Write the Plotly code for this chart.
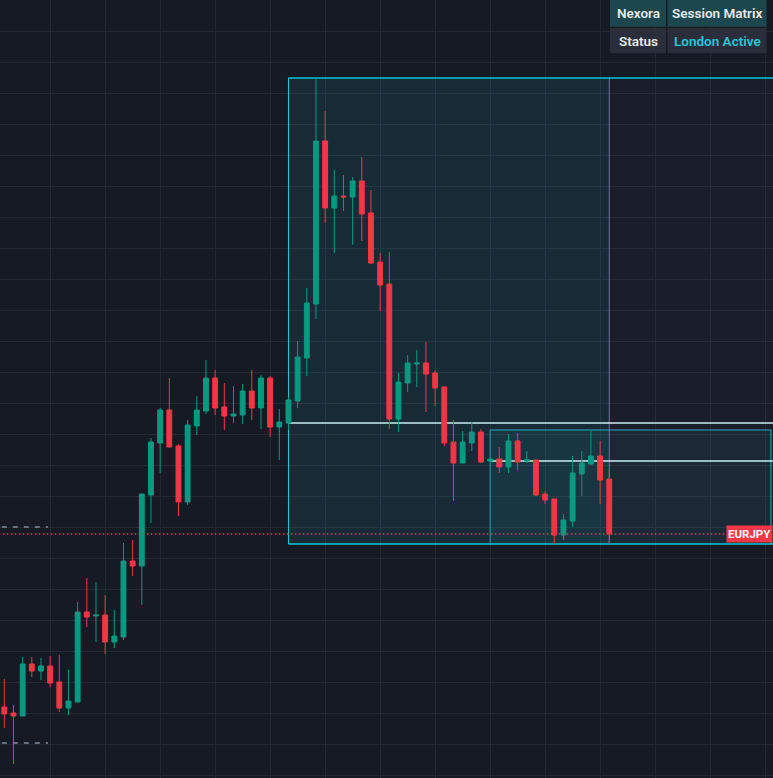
import plotly.graph_objects as go

# EURJPY bars (index based)
bars = list(range(67))
open_ = [160.71, 160.65, 160.62, 161.14, 161.07, 161.12, 160.96, 160.70, 160.76, 161.66,
         161.62, 161.63, 161.36, 161.41, 162.17, 162.12, 162.83, 163.35, 163.68, 163.32,
         162.76, 163.52, 163.67, 164.00, 163.71, 163.62, 163.63, 163.87, 163.70, 164.00,
         163.51, 163.55, 163.77, 164.20, 164.74, 166.37, 165.70, 165.82, 165.81, 165.97,
         165.65, 165.16, 164.94, 163.59, 163.95, 164.14, 164.15, 164.05, 163.91, 163.36,
         163.15, 163.35, 163.46, 163.17, 163.19, 163.11, 163.37, 163.17, 163.18, 162.84,
         162.79, 162.43, 162.57, 163.04, 163.14, 163.22, 162.99]
high_ = [160.99, 160.73, 161.21, 161.21, 161.20, 161.22, 161.23, 161.08, 161.76, 162.00,
         161.96, 161.83, 161.68, 162.35, 162.38, 162.84, 163.40, 163.70, 164.00, 163.34,
         163.58, 163.82, 164.18, 164.08, 163.95, 163.92, 163.94, 164.08, 164.03, 164.02,
         163.69, 163.81, 164.37, 164.90, 167.00, 166.67, 166.08, 166.03, 166.01, 166.21,
         165.88, 165.25, 165.26, 164.05, 164.23, 164.28, 164.36, 164.08, 163.92, 163.58,
         163.47, 163.56, 163.49, 163.20, 163.31, 163.44, 163.45, 163.27, 163.18, 162.87,
         162.79, 162.64, 163.22, 163.27, 163.48, 163.37, 163.09]
low_ = [160.50, 160.14, 160.62, 161.01, 160.98, 160.91, 160.66, 160.63, 160.76, 161.51,
        161.36, 161.24, 161.30, 161.38, 162.02, 161.73, 162.55, 163.05, 163.31, 162.62,
        162.73, 163.43, 163.64, 163.63, 163.48, 163.55, 163.54, 163.58, 163.49, 163.41,
        163.18, 163.48, 163.70, 164.02, 164.59, 165.55, 165.25, 165.67, 165.33, 165.37,
        165.14, 164.67, 163.49, 163.46, 163.86, 163.91, 163.66, 163.72, 163.32, 162.77,
        163.15, 163.27, 163.15, 163.16, 163.05, 163.05, 163.08, 163.15, 162.82, 162.74,
        162.34, 162.38, 162.51, 162.82, 163.13, 162.74, 162.34]
close_ = [160.64, 160.62, 161.14, 161.07, 161.12, 160.95, 160.70, 160.77, 161.66, 161.61,
          161.63, 161.36, 161.42, 162.17, 162.12, 162.84, 163.36, 163.68, 163.31, 162.76,
          163.53, 163.68, 164.00, 163.70, 163.62, 163.64, 163.87, 163.70, 164.00, 163.51,
          163.56, 163.78, 164.21, 164.75, 166.37, 165.70, 165.82, 165.81, 165.97, 165.64,
          165.15, 164.93, 163.59, 163.96, 164.15, 164.15, 164.04, 163.90, 163.35, 163.15,
          163.36, 163.46, 163.16, 163.19, 163.11, 163.37, 163.16, 163.18, 162.83, 162.78,
          162.43, 162.58, 163.05, 163.15, 163.22, 162.98, 162.44]

session_start = 31      # London session first bar
sub_start = 53          # second range box first bar
prev_levels = [162.51, 160.35]   # previous session high / low (dashed)

table_rows = [["Nexora", "Session Matrix"], ["Status", "London Active"]]

BG = "#161a25"
GREEN = "#089981"
RED = "#f23645"
CYAN = "#26c6da"
X_LO, X_HI = -0.47, 83.86
Y_LO, Y_HI = 160.00, 167.78
W, H = 773, 778

fig = go.Figure()
fig.add_trace(go.Candlestick(
    x=bars, open=open_, high=high_, low=low_, close=close_,
    increasing=dict(line=dict(color=GREEN, width=1), fillcolor=GREEN),
    decreasing=dict(line=dict(color=RED, width=1), fillcolor=RED),
    whiskerwidth=0, showlegend=False, hoverinfo="skip",
))

last = len(bars) - 1
s_hi = max(high_[session_start:])
s_lo = min(low_[session_start:])
b_hi = max(high_[sub_start:])
b_lo = min(low_[sub_start:])
b_end = 83.64

shapes = []
# session range box (filled up to the current bar)
shapes.append(dict(type="rect", x0=session_start, x1=last, y0=s_lo, y1=s_hi,
                   fillcolor="rgba(38,198,218,0.10)", line=dict(width=0), layer="between"))
# projected area to the right
shapes.append(dict(type="rect", x0=last, x1=X_HI + 1, y0=s_lo, y1=s_hi,
                   fillcolor="rgba(120,123,134,0.05)", line=dict(width=0), layer="between"))
# inner range box fill
shapes.append(dict(type="rect", x0=sub_start, x1=b_end, y0=b_lo, y1=b_hi,
                   fillcolor="rgba(38,198,218,0.07)", line=dict(width=0), layer="between"))

box_lines = [
    (session_start, X_HI + 1, s_hi, s_hi, "#00c8dc", 1.5),
    (session_start, X_HI + 1, s_lo, s_lo, "#00c8dc", 1.5),
    (session_start, session_start, s_lo, s_hi, CYAN, 1),
    (last, last, s_lo, s_hi, "rgba(38,198,218,0.7)", 1),
    (sub_start, b_end, b_hi, b_hi, "rgba(38,198,218,0.85)", 1),
    (sub_start, sub_start, b_lo, b_hi, "rgba(38,198,218,0.7)", 1),
    (b_end, b_end, b_lo, b_hi, "rgba(38,198,218,0.85)", 1),
]
for x0, x1, y0, y1, col, wd in box_lines:
    shapes.append(dict(type="line", x0=x0, x1=x1, y0=y0, y1=y1,
                       line=dict(color=col, width=wd), layer="between"))

# session open lines
for start in (session_start, sub_start):
    shapes.append(dict(type="line", x0=start, x1=X_HI + 1,
                       y0=open_[start], y1=open_[start],
                       line=dict(color="#c8eef3", width=1.5), layer="between"))
# previous session levels
for lv in prev_levels:
    shapes.append(dict(type="line", x0=X_LO - 1, x1=4.77, y0=lv, y1=lv,
                       line=dict(color="#7d8c99", width=1.5, dash="5px,6px")))
# last price line
shapes.append(dict(type="line", x0=X_LO - 1, x1=X_HI + 1, y0=close_[-1], y1=close_[-1],
                   line=dict(color=RED, width=1.5, dash="1.5px,2.5px")))

# table cells (pixel positions converted to paper)
col_x = [(610, 666), (667.5, 766.5)]
row_y = [(0, 26.7), (28, 53.3)]
row_bg = ["#1c474e", "#2a2e3a"]
annotations = []
for r, row in enumerate(table_rows):
    for c, txt in enumerate(row):
        x0, x1 = col_x[c]
        y0, y1 = row_y[r]
        shapes.append(dict(type="rect", xref="paper", yref="paper",
                           x0=x0 / W, x1=x1 / W, y0=1 - y1 / H, y1=1 - y0 / H,
                           fillcolor=row_bg[r], line=dict(width=0), layer="above"))
        color = CYAN if (r == 1 and c == 1) else "#e6e8ee"
        annotations.append(dict(xref="paper", yref="paper",
                                x=(x0 + x1) / 2 / W, y=1 - (y0 + y1) / 2 / H,
                                xanchor="center", yanchor="middle",
                                text=txt, showarrow=False,
                                font=dict(family="Roboto", size=13.5, color=color, weight=600)))

annotations.append(dict(xref="paper", yref="y", x=1, y=close_[-1],
                        xanchor="right", yanchor="middle",
                        text="<b>EURJPY</b>", showarrow=False, bgcolor=RED, borderpad=1,
                        font=dict(family="Roboto", size=11.5, color="white")))

fig.update_layout(
    width=W, height=H, margin=dict(l=0, r=0, t=0, b=0),
    paper_bgcolor=BG, plot_bgcolor=BG, boxgap=0.24,
    shapes=shapes, annotations=annotations,
    xaxis=dict(range=[X_LO, X_HI], rangeslider=dict(visible=False), showticklabels=False,
               showgrid=True, gridcolor="#242834", tick0=5, dtick=6, zeroline=False,
               fixedrange=True),
    yaxis=dict(range=[Y_LO, Y_HI], showticklabels=False, showgrid=True,
               gridcolor="#242834", tick0=160.03, dtick=0.31, zeroline=False,
               fixedrange=True),
)

fig.write_html("out.html", config={"displayModeBar": False},
               post_script="document.body.style.margin='0';"
                           "document.body.style.background='#161a25';"
                           "document.body.style.overflow='hidden';")
